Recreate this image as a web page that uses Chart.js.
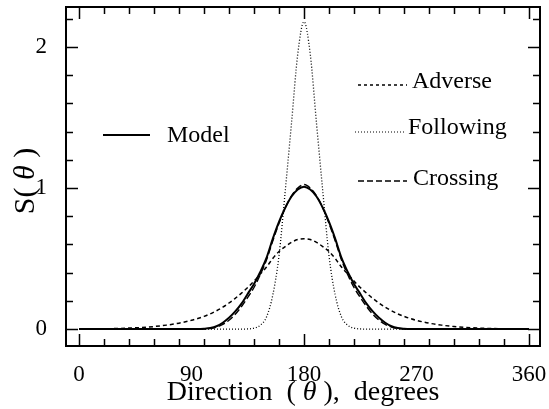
<!DOCTYPE html>
<html>
<head>
<meta charset="utf-8">
<script src="https://cdn.jsdelivr.net/npm/chart.js@4.4.1/dist/chart.umd.min.js"></script>
<style>
    html, body { margin: 0; padding: 0; background: #fff; }
    canvas { display: block; }
</style>
</head>
<body>
<canvas id="chart" width="549" height="409"></canvas>
<script>
"use strict";

// winkel in grad (x-achse)
const angles = [0, 10, 20, 30, 40, 50, 60, 70, 80,
    90, 95, 100, 105, 110, 115, 120, 125, 130, 135, 140, 145, 150, 155, 160, 165, 170, 175,
    180,
    185, 190, 195, 200, 205, 210, 215, 220, 225, 230, 235, 240, 245, 250, 255, 260, 265, 270,
    280, 290, 300, 310, 320, 330, 340, 350, 360];

const seriesNames = ['Model', 'Adverse', 'Following', 'Crossing'];

const model = [0, 0, 0, 0, 0, 0, 0, 0, 0,
    0, 0, 0.002, 0.007, 0.02, 0.045, 0.08, 0.125, 0.18, 0.25, 0.32, 0.405, 0.505, 0.64, 0.76, 0.86, 0.94, 0.99,
    1.01,
    0.99, 0.94, 0.86, 0.76, 0.64, 0.505, 0.405, 0.32, 0.25, 0.18, 0.125, 0.08, 0.045, 0.02, 0.007, 0.002, 0, 0,
    0, 0, 0, 0, 0, 0, 0, 0, 0];

const adverse = [0, 0.001, 0.002, 0.004, 0.007, 0.011, 0.018, 0.028, 0.042,
    0.062, 0.075, 0.09, 0.108, 0.13, 0.155, 0.185, 0.218, 0.255, 0.295, 0.34, 0.39, 0.44, 0.5, 0.55, 0.585, 0.615, 0.635,
    0.64,
    0.635, 0.615, 0.585, 0.55, 0.5, 0.44, 0.39, 0.34, 0.295, 0.255, 0.218, 0.185, 0.155, 0.13, 0.108, 0.09, 0.075, 0.062,
    0.042, 0.028, 0.018, 0.011, 0.007, 0.004, 0.002, 0.001, 0];

const following = [0, 0, 0, 0, 0, 0, 0, 0, 0,
    0, 0, 0, 0, 0, 0, 0, 0, 0, 0.001, 0.007, 0.027, 0.086, 0.24, 0.52, 0.98, 1.46, 1.95,
    2.18,
    1.95, 1.46, 0.98, 0.52, 0.24, 0.086, 0.027, 0.007, 0.001, 0, 0, 0, 0, 0, 0, 0, 0, 0,
    0, 0, 0, 0, 0, 0, 0, 0, 0];

const crossing = [0, 0, 0, 0, 0, 0, 0, 0, 0,
    0, 0, 0.001, 0.004, 0.014, 0.033, 0.063, 0.105, 0.16, 0.225, 0.295, 0.385, 0.49, 0.625, 0.75, 0.86, 0.945, 1.0,
    1.025,
    1.0, 0.945, 0.86, 0.75, 0.625, 0.49, 0.385, 0.295, 0.225, 0.16, 0.105, 0.063, 0.033, 0.014, 0.004, 0.001, 0, 0,
    0, 0, 0, 0, 0, 0, 0, 0, 0];

// tick beschriftungen und tick striche
const xTickLabels = [0, 90, 180, 270, 360];
const xTickMarks = [0, 20, 40, 60, 80, 100, 120, 140, 160, 180, 200, 220, 240, 260, 280, 300, 320, 340, 360];
const xMajorMarks = [0, 180, 360];
const yTickLabels = [0, 1, 2];
const yTickMarks = [0, 0.2, 0.4, 0.6, 0.8, 1, 1.2, 1.4, 1.6, 1.8, 2, 2.2];

const SERIF = "'Liberation Serif', 'DejaVu Serif', serif";

function toPoints(values) {
    return angles.map((a, i) => ({x: a, y: values[i]}));
}

// rahmen + ticks nach innen
const frameTicks = {
    id: 'frameTicks',
    afterDatasetsDraw(chart) {
        const {ctx, chartArea: a, scales: {x, y}} = chart;
        ctx.save();
        ctx.strokeStyle = '#000';
        ctx.lineWidth = 1.5;
        ctx.beginPath();
        xTickMarks.forEach(v => {
            const px = Math.round(x.getPixelForValue(v)) + 0.5;
            const len = xMajorMarks.includes(v) ? 12 : 7;
            ctx.moveTo(px, a.bottom);
            ctx.lineTo(px, a.bottom - len);
            ctx.moveTo(px, a.top);
            ctx.lineTo(px, a.top + len);
        });
        yTickMarks.forEach(v => {
            const py = Math.round(y.getPixelForValue(v)) + 0.5;
            const len = yTickLabels.includes(v) ? 12 : 7;
            ctx.moveTo(a.left, py);
            ctx.lineTo(a.left + len, py);
            ctx.moveTo(a.right, py);
            ctx.lineTo(a.right - len, py);
        });
        ctx.stroke();
        ctx.lineWidth = 2;
        ctx.strokeRect(a.left, a.top, a.right - a.left, a.bottom - a.top);
        ctx.restore();
    }
};

// legende + achsentitel selbst zeichnen
const labelsPlugin = {
    id: 'labelsPlugin',
    afterDraw(chart) {
        const {ctx, chartArea: a} = chart;
        ctx.save();
        ctx.fillStyle = '#000';
        ctx.strokeStyle = '#000';

        const entries = [
            {name: seriesNames[0], x1: 103, x2: 150, ly: 135, tx: 167, ty: 142, dash: [], w: 2},
            {name: seriesNames[1], x1: 358, x2: 407, ly: 85, tx: 412, ty: 88, dash: [3, 3], w: 1.3},
            {name: seriesNames[2], x1: 355, x2: 406, ly: 132, tx: 408, ty: 134, dash: [1, 2], w: 1.2},
            {name: seriesNames[3], x1: 358, x2: 407, ly: 181, tx: 413, ty: 185, dash: [6, 3], w: 1.4}
        ];
        ctx.font = '24px ' + SERIF;
        ctx.textBaseline = 'alphabetic';
        ctx.textAlign = 'left';
        entries.forEach(e => {
            ctx.beginPath();
            ctx.setLineDash(e.dash);
            ctx.lineWidth = e.w;
            ctx.moveTo(e.x1, e.ly);
            ctx.lineTo(e.x2, e.ly);
            ctx.stroke();
            ctx.fillText(e.name, e.tx, e.ty);
        });
        ctx.setLineDash([]);

        // x titel mit kursivem theta
        const normal = '28px ' + SERIF;
        const italic = 'italic 28px ' + SERIF;
        const xParts = [['Direction  ( ', normal], ['\u03B8', italic], [' ),  degrees', normal]];
        drawParts(ctx, xParts, (a.left + a.right) / 2, 400);

        // y titel, gedreht
        const yNormal = '30px ' + SERIF;
        const yItalic = 'italic 30px ' + SERIF;
        const yParts = [['S( ', yNormal], ['\u03B8', yItalic], [' )', yNormal]];
        ctx.translate(34, 181);
        ctx.rotate(-Math.PI / 2);
        drawParts(ctx, yParts, 0, 0);
        ctx.restore();
    }
};

function drawParts(ctx, parts, cx, baseY) {
    let total = 0;
    parts.forEach(p => {
        ctx.font = p[1];
        total += ctx.measureText(p[0]).width;
    });
    let x = cx - total / 2;
    ctx.textAlign = 'left';
    ctx.textBaseline = 'alphabetic';
    parts.forEach(p => {
        ctx.font = p[1];
        ctx.fillText(p[0], x, baseY);
        x += ctx.measureText(p[0]).width;
    });
}

const ctx = document.getElementById('chart').getContext('2d');

new Chart(ctx, {
    type: 'line',
    data: {
        datasets: [
            {label: seriesNames[1], data: toPoints(adverse), borderDash: [4, 3], borderWidth: 1.5},
            {label: seriesNames[2], data: toPoints(following), borderDash: [1, 2], borderWidth: 1.3},
            {label: seriesNames[3], data: toPoints(crossing), borderDash: [7, 3], borderWidth: 1.4},
            {label: seriesNames[0], data: toPoints(model), borderWidth: 2}
        ].map(ds => Object.assign(ds, {
            borderColor: '#000',
            backgroundColor: '#000',
            pointRadius: 0,
            fill: false,
            cubicInterpolationMode: 'monotone'
        }))
    },
    options: {
        responsive: false,
        animation: false,
        devicePixelRatio: 1,
        layout: {padding: {top: 7, right: 9, left: 0, bottom: 0}},
        plugins: {
            legend: {display: false},
            tooltip: {enabled: false}
        },
        scales: {
            x: {
                type: 'linear',
                min: -10.4,
                max: 368.8,
                grid: {display: false},
                border: {display: false},
                ticks: {
                    color: '#000',
                    font: {family: SERIF, size: 23},
                    padding: 7,
                    maxRotation: 0,
                    autoSkip: false
                },
                afterBuildTicks: scale => {
                    scale.ticks = xTickLabels.map(v => ({value: v}));
                },
                afterFit: scale => {
                    scale.height = 63;
                    scale.paddingLeft = 0;
                    scale.paddingRight = 0;
                }
            },
            y: {
                min: -0.12,
                max: 2.284,
                grid: {display: false},
                border: {display: false},
                ticks: {
                    color: '#000',
                    font: {family: SERIF, size: 23},
                    padding: 11
                },
                afterBuildTicks: scale => {
                    scale.ticks = yTickLabels.map(v => ({value: v}));
                },
                afterFit: scale => {
                    scale.width = 66;
                    scale.paddingTop = 0;
                    scale.paddingBottom = 0;
                }
            }
        }
    },
    plugins: [frameTicks, labelsPlugin]
});
</script>
</body>
</html>
